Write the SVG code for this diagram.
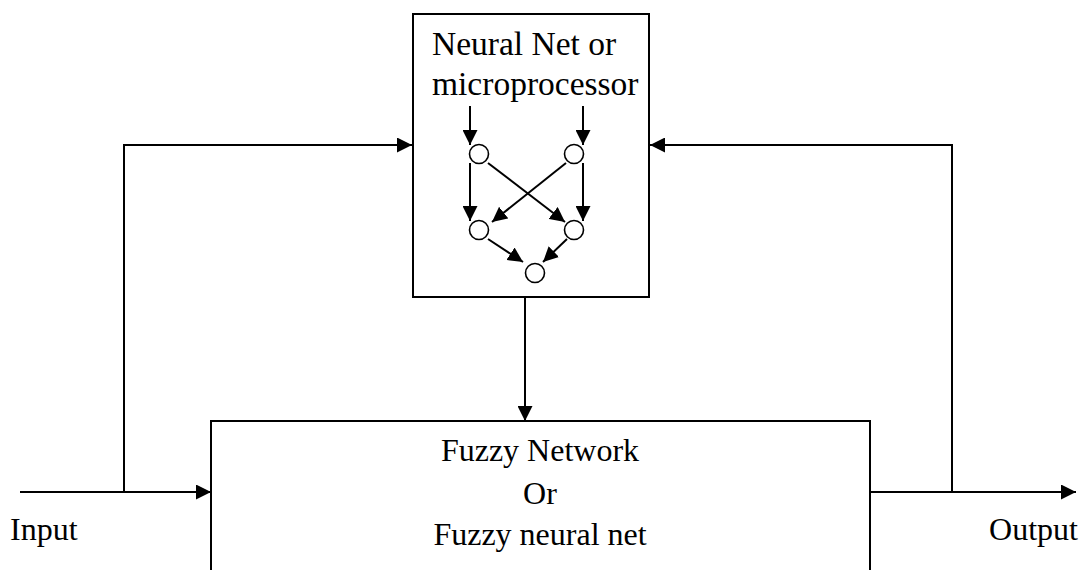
<svg xmlns="http://www.w3.org/2000/svg" width="1083" height="570" viewBox="0 0 1083 570">
<style>
.box{fill:#fff;stroke:#000;stroke-width:2}
.ln{fill:none;stroke:#000;stroke-width:2}
.nd{fill:#fff;stroke:#000;stroke-width:1.6}
text{font-family:"Liberation Serif","Times New Roman",serif;font-size:32px;fill:#000}
.big{font-size:33.5px}
</style>
<defs>
<marker id="ah" markerUnits="userSpaceOnUse" markerWidth="15" markerHeight="15" refX="15" refY="7.5" orient="auto" viewBox="0 0 15 15">
<path d="M0,0 L15,7.5 L0,15 z" fill="#000"/>
</marker>
</defs>
<rect width="1083" height="570" fill="#fff"/>
<g id="neural-net">
<rect class="box" x="413" y="14" width="236" height="283"/>
<text class="big" x="432" y="55">Neural Net or</text>
<text class="big" x="432" y="95">microprocessor</text>
<circle class="nd" cx="479" cy="154" r="9.5"/>
<circle class="nd" cx="574" cy="154" r="9.5"/>
<circle class="nd" cx="479" cy="230" r="9.5"/>
<circle class="nd" cx="574" cy="230" r="9.5"/>
<circle class="nd" cx="535" cy="273" r="9.5"/>
</g>
<g id="fuzzy-network">
<path class="box" d="M211,580 L211,421 L870,421 L870,580"/>
<text x="540" y="461" text-anchor="middle">Fuzzy Network</text>
<text x="540" y="504" text-anchor="middle">Or</text>
<text x="540" y="545" text-anchor="middle">Fuzzy neural net</text>
</g>
<g id="labels">
<text x="10" y="540">Input</text>
<text x="1078" y="540" text-anchor="end">Output</text>
</g>
<g id="connectors">
<path class="ln" d="M20,492 L211,492" marker-end="url(#ah)"/>
<path class="ln" d="M124,492 L124,145 L412,145" marker-end="url(#ah)"/>
<path class="ln" d="M870,492 L1076,492" marker-end="url(#ah)"/>
<path class="ln" d="M952,492 L952,145 L650,145" marker-end="url(#ah)"/>
<path class="ln" d="M525,297 L525,421" marker-end="url(#ah)"/>
<path class="ln" d="M470,106 L470,145" marker-end="url(#ah)"/>
<path class="ln" d="M583,106 L583,145" marker-end="url(#ah)"/>
<path class="ln" d="M470,163 L470,221" marker-end="url(#ah)"/>
<path class="ln" d="M583,163 L583,221" marker-end="url(#ah)"/>
<path class="ln" d="M488,163 L565,222" marker-end="url(#ah)"/>
<path class="ln" d="M566,163 L492,222" marker-end="url(#ah)"/>
<path class="ln" d="M488,239 L523,262" marker-end="url(#ah)"/>
<path class="ln" d="M567,239 L543,262" marker-end="url(#ah)"/>
</g>
</svg>
